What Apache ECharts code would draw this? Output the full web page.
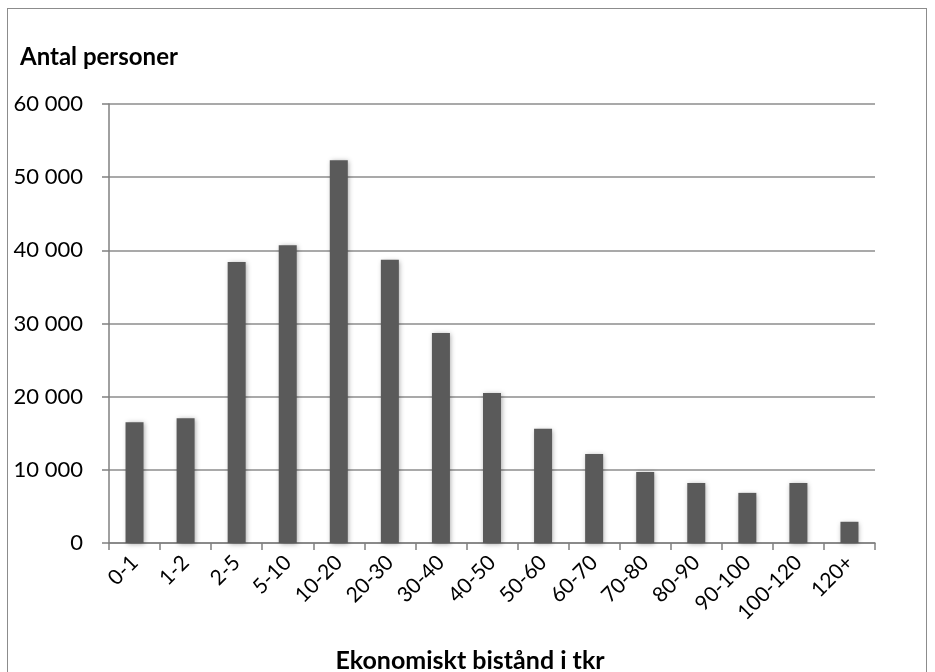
<!DOCTYPE html>
<html><head><meta charset="utf-8">
<script src="https://cdn.jsdelivr.net/npm/echarts@6/dist/echarts.min.js"></script>
<style>
html,body{margin:0;padding:0;background:#fff;}
#frame{position:absolute;left:7px;top:8px;width:920px;height:680px;border:1px solid #8c8c8c;box-sizing:border-box;}
#c{position:absolute;left:0;top:0;width:935px;height:672px;}
</style></head>
<body><div id="frame"></div><div id="c"></div>
<script>
const categories = ['0-1','1-2','2-5','5-10','10-20','20-30','30-40','40-50','50-60','60-70','70-80','80-90','90-100','100-120','120+'];
const persons = [16500, 17050, 38400, 40700, 52300, 38700, 28700, 20500, 15600, 12150, 9700, 8200, 6850, 8200, 2900];
const yTicks = [0, 10000, 20000, 30000, 40000, 50000, 60000];
const yTitle = 'Antal personer';
const xTitle = 'Ekonomiskt bistånd i tkr';
const font = 'Lato, "Open Sans", sans-serif';
const chart = echarts.init(document.getElementById('c'));
chart.setOption({
  animation:false,
  grid:{left:109,right:60,top:104,bottom:129,containLabel:false},
  graphic:[
    {type:'text',left:20,top:45,style:{text:yTitle,font:'bold 24px '+font,fill:'#000'}},
    {type:'text',x:470,y:661,style:{text:xTitle,font:'bold 25px '+font,fill:'#000',textAlign:'center',textVerticalAlign:'middle'}}
  ],
  xAxis:{type:'category',data:categories,
    axisLine:{lineStyle:{color:'#808080',width:1.5}},
    axisTick:{show:true,alignWithLabel:false,length:7,lineStyle:{color:'#808080',width:1.5}},
    axisLabel:{rotate:45,fontFamily:font,fontSize:21,color:'#000',margin:16,interval:0}},
  yAxis:{type:'value',min:0,max:60000,interval:10000,
    axisLine:{show:true,lineStyle:{color:'#808080',width:1.5}},
    axisTick:{show:true,length:7,lineStyle:{color:'#808080',width:1.5}},
    splitLine:{lineStyle:{color:'#8c8c8c',width:1.5}},
    axisLabel:{fontFamily:font,fontSize:22,color:'#000',margin:26,
      formatter:v=>yTicks.includes(v)?(v===0?'0':String(v/1000)+' 000'):''}},
  series:[{type:'bar',data:persons,barWidth:18,
    itemStyle:{color:'#5a5a5a',shadowColor:'rgba(0,0,0,0.35)',shadowBlur:5,shadowOffsetX:1,shadowOffsetY:1}}]
});
</script></body></html>
